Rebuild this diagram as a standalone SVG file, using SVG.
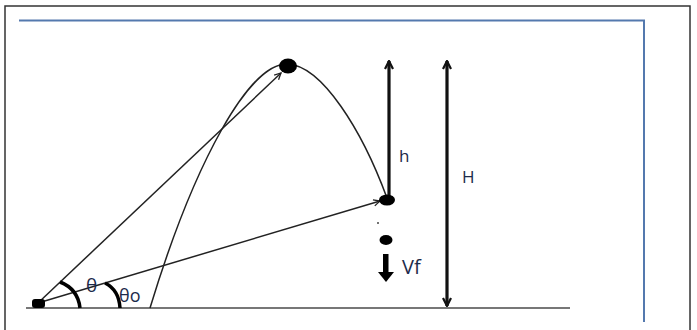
<svg xmlns="http://www.w3.org/2000/svg" width="697" height="330" viewBox="0 0 697 330">
<style>
.thin{fill:none;stroke:#222;stroke-width:1.5}
.thick{fill:none;stroke:#111;stroke-width:3.2}
.arc{fill:none;stroke:#000;stroke-width:3.5}
.lbl{font-family:"Open Sans","Liberation Sans",sans-serif;fill:#1c2a4a;font-size:17px}
</style>
<defs>
<marker id="open" viewBox="0 0 10 10" refX="9" refY="5" markerWidth="8" markerHeight="8" orient="auto-start-reverse" markerUnits="userSpaceOnUse">
<path d="M1,1 L9,5 L1,9" fill="none" stroke="#222" stroke-width="1.6"/>
</marker>
<marker id="openB" viewBox="0 0 10 10" refX="9" refY="5" markerWidth="10" markerHeight="12" orient="auto-start-reverse" markerUnits="userSpaceOnUse">
<path d="M1,1 L9,5 L1,9" fill="none" stroke="#111" stroke-width="2.2"/>
</marker>
</defs>
<rect x="0" y="0" width="697" height="330" fill="#fff"/>
<rect x="5" y="6" width="685" height="340" fill="none" stroke="#333" stroke-width="1.5"/>
<path d="M19,20.5 H644 V322" fill="none" stroke="#5479ae" stroke-width="2"/>
<line x1="26" y1="308" x2="570" y2="308" stroke="#777" stroke-width="2"/>
<g id="connectors">
<path class="thin" d="M150,308 C195,160 250,62 288,64 C322,66 362,130 387,198"/>
<line class="thin" x1="38" y1="303" x2="281" y2="73" marker-end="url(#open)"/>
<line class="thin" x1="38" y1="303" x2="380" y2="201" marker-end="url(#open)"/>
<line class="thick" x1="389" y1="198" x2="389" y2="61" marker-end="url(#openB)"/>
<line class="thick" x1="447" y1="306" x2="447" y2="61" marker-start="url(#openB)" marker-end="url(#openB)"/>
<path class="arc" d="M60,282 Q78,289 80,308"/>
<path class="arc" d="M105,283 Q119,290 120,308"/>
</g>
<g id="launch"><rect x="32" y="299" width="13" height="9" rx="3" fill="#000"/></g>
<g id="top-ball"><ellipse cx="288" cy="66" rx="9" ry="7.5" fill="#000"/></g>
<g id="right-ball"><ellipse cx="387" cy="200" rx="8" ry="5.5" fill="#000"/><circle cx="378" cy="223" r="1" fill="#444"/></g>
<g id="falling-ball">
<ellipse cx="386" cy="240" rx="6.5" ry="5" fill="#000"/>
<rect x="383" y="254" width="5.5" height="19" fill="#000"/>
<path d="M378,272 H394 L386,282 Z" fill="#000"/>
</g>
<g id="labels">
<text class="lbl" x="399" y="162">h</text>
<text class="lbl" x="462" y="183">H</text>
<text class="lbl" x="402" y="274" style="font-size:20px">Vf</text>
<text class="lbl" x="86" y="292" style="font-size:19px">θ</text>
<text class="lbl" x="119" y="302" style="font-size:18px">θo</text>
</g>
</svg>
